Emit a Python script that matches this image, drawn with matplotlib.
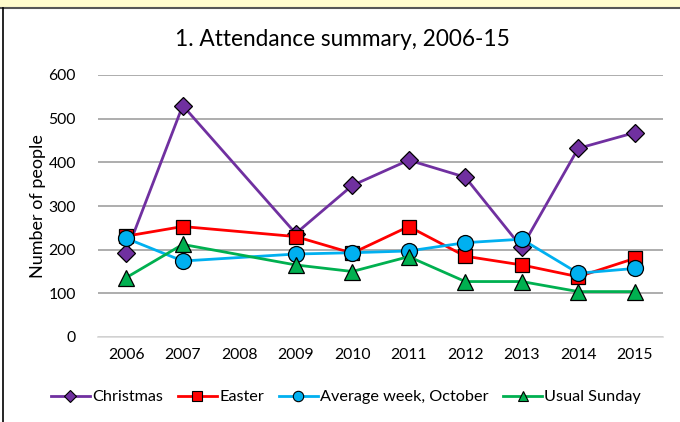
import matplotlib
matplotlib.use("Agg")
import matplotlib.pyplot as plt
from matplotlib.patches import Rectangle
from matplotlib.lines import Line2D

plt.rcParams['font.family'] = ['Lato', 'DejaVu Sans']

years = ["2006", "2007", "2008", "2009", "2010", "2011", "2012", "2013", "2014", "2015"]
data_years = ["2006", "2007", "2009", "2010", "2011", "2012", "2013", "2014", "2015"]

christmas = [193, 530, 237, 347, 405, 366, 205, 432, 468]
easter = [231, 253, 230, 192, 253, 185, 165, 138, 180]
average_week = [226, 174, 190, 193, 197, 216, 224, 146, 157]
usual_sunday = [136, 212, 165, 150, 184, 127, 127, 104, 104]

series = [
    ("Christmas", christmas, "#7030A0", "D", 9.5),
    ("Easter", easter, "#FF0000", "s", 10.5),
    ("Average week, October", average_week, "#00B0F0", "o", 11.5),
    ("Usual Sunday", usual_sunday, "#00B050", "^", 12),
]

fig = plt.figure(figsize=(6.8, 4.22), dpi=100)

# yellow strip + frame like the source screenshot
fig.patches.append(Rectangle((0, 1 - 7.5 / 422), 1, 7.5 / 422, transform=fig.transFigure,
                             facecolor="#FFFBCC", edgecolor="none", zorder=0))
fig.add_artist(Line2D([0, 1], [1 - 8 / 422, 1 - 8 / 422], transform=fig.transFigure,
                      color="#555555", lw=1.5))
fig.add_artist(Line2D([3 / 680, 3 / 680], [0, 1 - 8 / 422], transform=fig.transFigure,
                      color="black", lw=1.2))

ax = fig.add_axes([98 / 680, 1 - 337 / 422, 565 / 680, 262 / 422])

xpos = [years.index(y) for y in data_years]
for name, vals, color, marker, ms in series:
    ax.plot(xpos, vals, color=color, lw=2, marker=marker, markersize=ms,
            markerfacecolor=color, markeredgecolor="black", markeredgewidth=0.9,
            label=name, zorder=3)

ax.set_xlim(-0.5, len(years) - 0.5)
ax.set_ylim(0, 600)
ax.set_yticks(range(0, 601, 100))
ax.set_xticks(range(len(years)))
ax.set_xticklabels(years)
ax.yaxis.grid(True, color="#A0A0A0", lw=1.2)
ax.set_axisbelow(True)
for s in ["top", "right", "left"]:
    ax.spines[s].set_visible(False)
ax.spines["bottom"].set_color("#D9D9D9")
ax.spines["bottom"].set_linewidth(1.2)
ax.tick_params(length=0, labelsize=11.3, colors="black", pad=8)
ax.tick_params(axis="y", pad=16)
ax.set_ylabel("Number of people", fontsize=13, va="center")
ax.yaxis.set_label_coords(-0.106, 0.5)

fig.text(342 / 680, 1 - 39 / 422, "1. Attendance summary, 2006-15", ha="center", va="center", fontsize=16.3)

leg_handles = [Line2D([], [], color=c, lw=2, marker=m, markersize=ms * 0.65,
                      markerfacecolor=c, markeredgecolor="black", markeredgewidth=0.8)
               for _, _, c, m, ms in series]
fig.legend(leg_handles, [s[0] for s in series], loc="center", bbox_to_anchor=(346 / 680, 1 - 397 / 422),
           ncol=4, frameon=False, fontsize=11.7, handlelength=2.4, handletextpad=0.15,
           columnspacing=0.9)

fig.savefig("out.png", dpi=100)
